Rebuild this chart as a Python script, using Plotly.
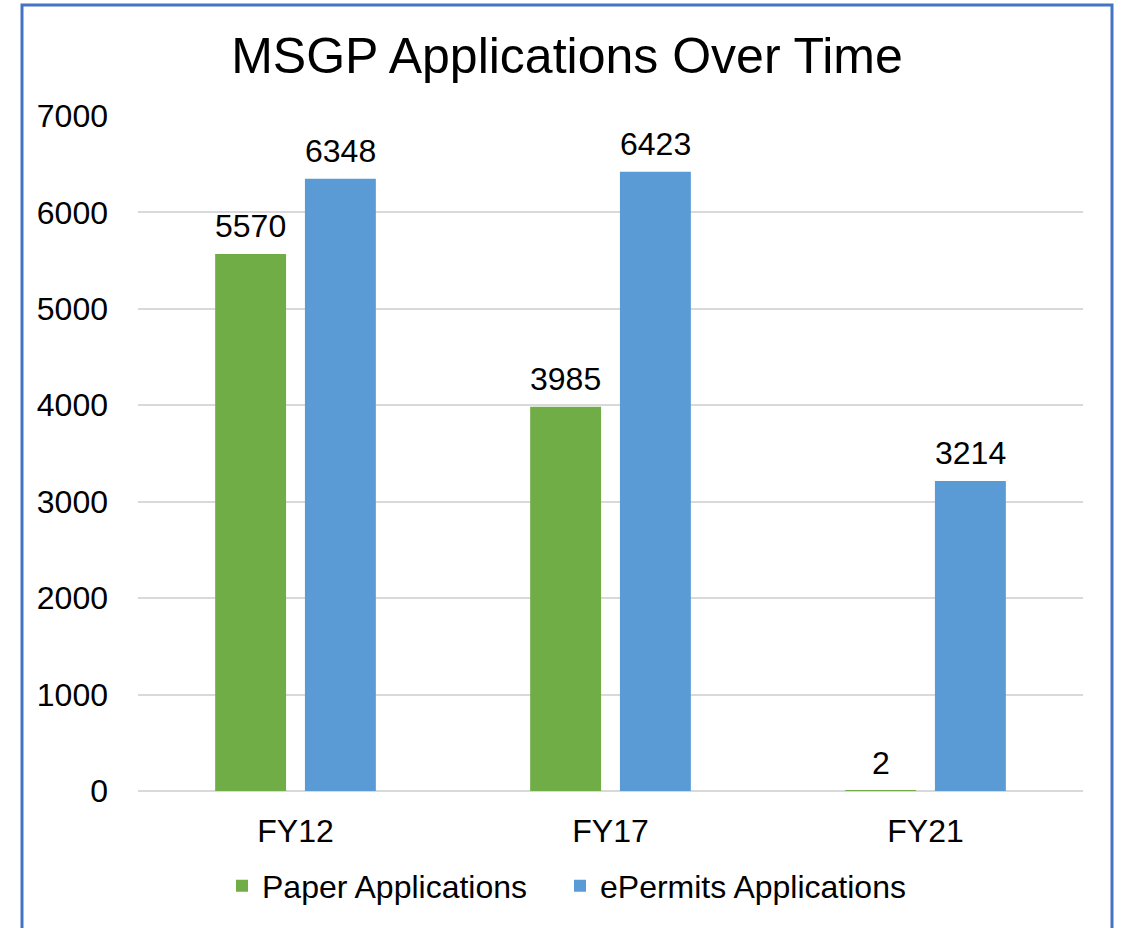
import plotly.graph_objects as go

categories = ["FY12", "FY17", "FY21"]
paper_apps = [5570, 3985, 2]
epermits_apps = [6348, 6423, 3214]
y_ticks = [0, 1000, 2000, 3000, 4000, 5000, 6000, 7000]

W, H = 1122, 928
L, T = 138, 116
R = W - 1083
B = H - 791
pw, ph = W - L - R, H - T - B

FONT = "Liberation Sans, Arial, sans-serif"
GREEN, BLUE = "#70AD47", "#5B9BD5"

fig = go.Figure()
fig.add_trace(go.Bar(
    name="Paper Applications", x=categories, y=paper_apps,
    marker=dict(color=GREEN, line=dict(width=0)), legend="legend", showlegend=True,
))
fig.add_trace(go.Bar(
    name="ePermits Applications", x=categories, y=epermits_apps,
    marker=dict(color=BLUE, line=dict(width=0)), legend="legend2", showlegend=True,
))

def px_x(x):
    return (x - L) / pw

def px_y(y):
    return (H - B - y) / ph

annotations = []
for series, shift in ((paper_apps, -45), (epermits_apps, 45)):
    for c, v in zip(categories, series):
        annotations.append(dict(x=c, y=v, xref="x", yref="y", text=str(v), showarrow=False,
                                xshift=shift, yshift=8, yanchor="bottom", xanchor="center",
                                font=dict(size=32, family=FONT, color="#000000")))

leg_common = dict(orientation="h", yanchor="middle", y=px_y(886), xanchor="left",
                  font=dict(size=32, family=FONT, color="#000000"), bgcolor="rgba(0,0,0,0)",
                  itemwidth=30, visible=True)

fig.update_layout(
    width=W, height=H, showlegend=True,
    margin=dict(l=L, r=R, t=T, b=B, autoexpand=False),
    paper_bgcolor="white", plot_bgcolor="white",
    font=dict(family=FONT, size=32, color="#000000"),
    title=dict(text="MSGP Applications Over Time", x=px_x(567), xref="paper", xanchor="center",
               y=1 - 55 / H, yanchor="middle", font=dict(size=50, family=FONT, color="#000000")),
    barmode="group", bargap=0.43, bargroupgap=0.21,
    xaxis=dict(showgrid=False, showline=False, ticks="", ticklabelstandoff=18,
               tickfont=dict(size=32, family=FONT)),
    yaxis=dict(range=[0, 7000], tickvals=y_ticks, showgrid=True, gridcolor="#D9D9D9", gridwidth=1.5,
               zeroline=True, zerolinecolor="#D9D9D9", zerolinewidth=1.5, showline=False,
               ticks="", ticklabelstandoff=29, tickfont=dict(size=32, family=FONT)),
    legend=dict(x=px_x(222), **leg_common),
    legend2=dict(x=px_x(560), **leg_common),
    annotations=annotations,
    shapes=[dict(type="rect", xref="paper", yref="paper",
                 x0=px_x(22), x1=px_x(1112), y0=px_y(945), y1=px_y(5),
                 line=dict(color="#4472C4", width=3), fillcolor="rgba(0,0,0,0)", layer="above")],
)

fig.write_html("out.html",
               config={"displayModeBar": False},
               post_script="document.body.style.margin='0';document.body.style.overflow='hidden';")
